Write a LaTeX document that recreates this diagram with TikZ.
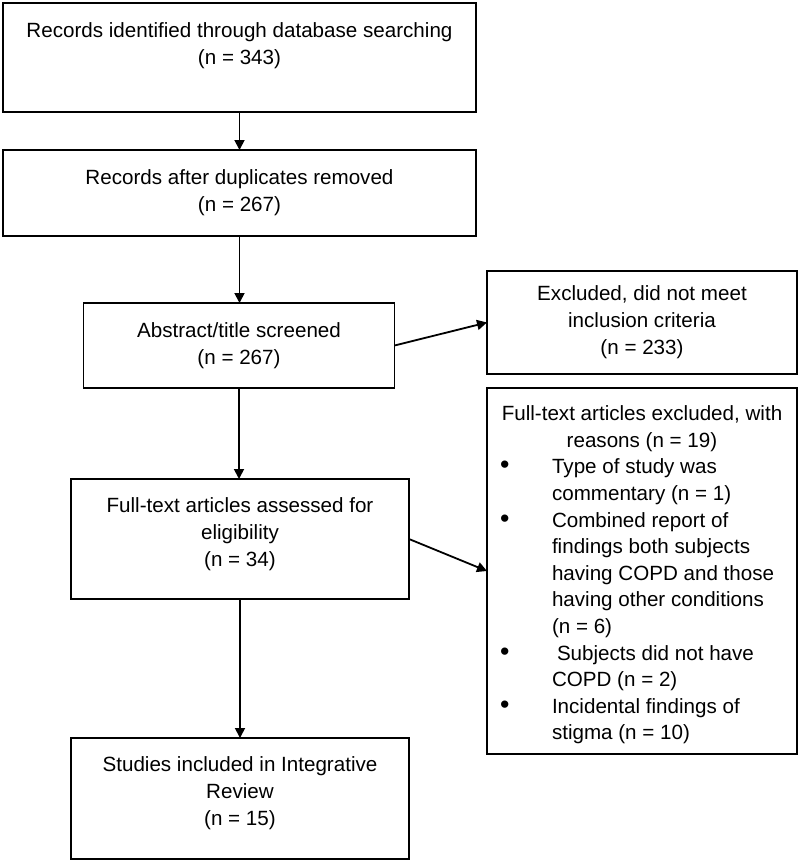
\documentclass[tikz,border=0pt]{standalone}
\usepackage{fontspec}
\setmainfont{Liberation Sans}
\usetikzlibrary{arrows.meta}
\begin{document}
\begin{tikzpicture}[x=1pt,y=-1pt,
  box/.style={draw, line width=1.8pt, rectangle, inner sep=0pt, outer sep=0pt, align=center,
    font=\fontsize{20.6}{27}\selectfont},
  arr/.style={line width=1.8pt, -{Triangle[length=10pt,width=10pt]}}]
\useasboundingbox (0,0) rectangle (800,863);
\node[box, minimum width=473pt, minimum height=109pt] (b1) at (239.5,57.5)
  {Records identified through database searching\\(n = 343)\\\mbox{}};
\node[box, minimum width=473pt, minimum height=86pt] (b2) at (239.5,193)
  {Records after duplicates removed\\(n = 267)};
\node[box, minimum width=311pt, minimum height=85pt] (b3) at (239,345.5)
  {Abstract/title screened\\(n = 267)};
\node[box, minimum width=338pt, minimum height=120pt] (b4) at (240,539)
  {Full-text articles assessed for\\eligibility\\(n = 34)\\[-13pt]\mbox{}};
\node[box, minimum width=338pt, minimum height=121pt] (b5) at (240,798.5)
  {Studies included in Integrative\\Review\\(n = 15)\\[-13pt]\mbox{}};
\node[box, minimum width=310pt, minimum height=103pt] (ex) at (642,322.5)
  {Excluded, did not meet\\inclusion criteria\\(n = 233)};
\node[box, minimum width=310pt, minimum height=366pt] (re) at (642,571)
  {\fontsize{20.6}{26.6}\selectfont
   \begin{tabular}{@{}p{55pt}@{}p{235pt}@{}}
   \multicolumn{2}{@{}c@{}}{Full-text articles excluded, with}\\
   \multicolumn{2}{@{}c@{}}{reasons (n = 19)}\\
   \hspace*{3pt}\scalebox{1.3}{\textbullet} & Type of study was\\
   & commentary (n = 1)\\
   \hspace*{3pt}\scalebox{1.3}{\textbullet} & Combined report of\\
   & findings both subjects\\
   & having COPD and those\\
   & having other conditions\\
   & (n = 6)\\
   \hspace*{3pt}\scalebox{1.3}{\textbullet} & \hspace*{5pt}Subjects did not have\\
   & COPD (n = 2)\\
   \hspace*{3pt}\scalebox{1.3}{\textbullet} & Incidental findings of\\
   & stigma (n = 10)\\[-8pt]
   \end{tabular}};
\draw[arr] (b1.south) -- (b2.north);
\draw[arr] (b2.south) -- (b2.south |- b3.north);
\draw[arr] (b3.south) -- (b3.south |- b4.north);
\draw[arr] (b4.south) -- (b5.north);
\draw[arr] (b3.east) -- (ex.west);
\draw[arr] (b4.east) -- (re.west);
\end{tikzpicture}
\end{document}
